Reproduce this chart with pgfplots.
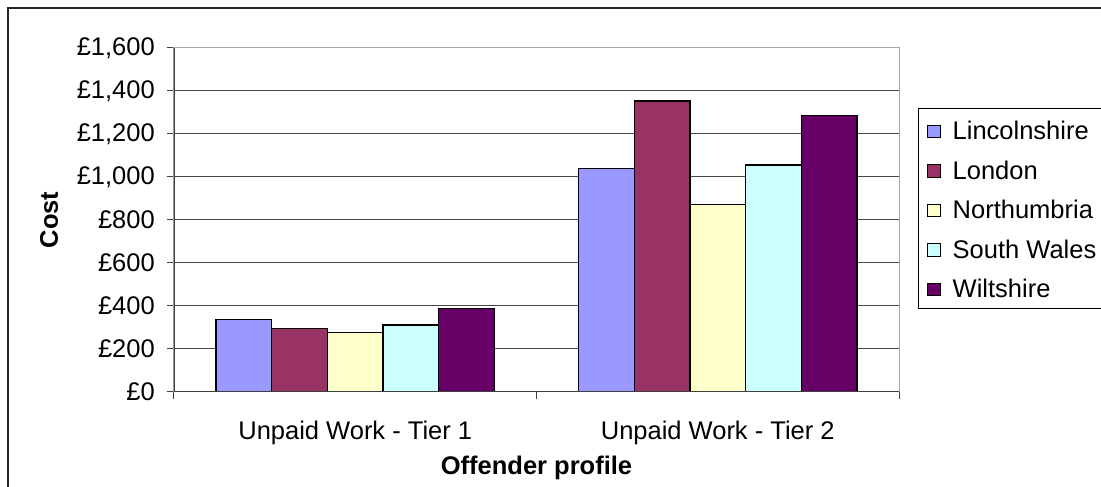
\documentclass[border=0pt]{standalone}
\usepackage{pgfplots}
\pgfplotsset{compat=1.18}
\usepackage{fontspec}
\setmainfont{Liberation Sans}

\definecolor{cLinc}{HTML}{9999FF}
\definecolor{cLond}{HTML}{993366}
\definecolor{cNorth}{HTML}{FFFFCC}
\definecolor{cSW}{HTML}{CCFFFF}
\definecolor{cWilt}{HTML}{660066}

\newcommand{\chartfont}{\fontsize{25.5}{30}\selectfont}

\pgfplotsset{
  swatch/.style={legend image code/.code={%
    \draw[##1,line width=1pt] (0pt,-8pt) rectangle (12.5pt,4.5pt);}},
}

\begin{document}
\begin{tikzpicture}
\path[use as bounding box] (0pt,0pt) rectangle (1101pt,487pt);
% outer chart frame
\draw[black!85,line width=1.3pt] (8pt,-2pt) -- (8pt,479pt) -- (1105pt,479pt);

\begin{axis}[
  at={(174pt,95.3pt)}, anchor=south west,
  scale only axis, width=725pt, height=343.7pt,
  xmin=-0.5, xmax=1.5, ymin=0, ymax=1600,
  ytick={0,200,...,1600},
  scaled y ticks=false,
  yticklabel={£\pgfmathprintnumber[assume math mode=true]{\tick}},
  xtick={-0.5,0.5,1.5}, xticklabels={},
  extra x ticks={0,1},
  extra x tick labels={Unpaid Work - Tier 1, Unpaid Work - Tier 2},
  extra x tick style={major tick length=0pt, grid=none},
  xtick pos=bottom, ytick pos=left,
  tick align=outside, major tick length=7pt,
  tick style={black!75, line width=1pt},
  ymajorgrids, grid style={black!72, line width=1pt},
  axis line style={gray!70, line width=1pt},
  ticklabel style={font=\chartfont},
  yticklabel style={inner sep=0pt, xshift=-12pt},
  xticklabel style={inner sep=0pt, anchor=north, yshift=-29pt},
  xlabel={\bfseries Offender profile},
  ylabel={\bfseries Cost},
  label style={font=\chartfont},
  xlabel style={at={(axis description cs:0.5,-0.222)}, anchor=center},
  ylabel style={at={(axis description cs:-0.1724,0.5)}, anchor=center, rotate=0},
  ybar, bar width=55.7pt,
  legend cell align=left,
  legend style={at={(axis description cs:1.0266,0.8246)}, anchor=north west,
    draw=black, line width=1pt, fill=white, font=\chartfont,
    inner xsep=8.4pt, inner ysep=4pt, row sep=5.75pt,
    nodes={inner sep=0pt, text height=27pt, text depth=6.8pt},
    /tikz/every odd column/.append style={column sep=12pt}},
]
\addplot[fill=cLinc,  draw=black, line width=1.3pt, bar shift=-111.4pt, swatch] coordinates {(0,337) (1,1040)};
\addplot[fill=cLond,  draw=black, line width=1.3pt, bar shift=-55.7pt,  swatch] coordinates {(0,295) (1,1353)};
\addplot[fill=cNorth, draw=black, line width=1.3pt, bar shift=0pt,      swatch] coordinates {(0,276) (1,870)};
\addplot[fill=cSW,    draw=black, line width=1.3pt, bar shift=55.7pt,   swatch] coordinates {(0,310) (1,1055)};
\addplot[fill=cWilt,  draw=black, line width=1.3pt, bar shift=111.4pt,  swatch] coordinates {(0,388) (1,1285)};
\legend{Lincolnshire, London, Northumbria, South Wales, Wiltshire}
% left and bottom axis lines in a darker tone
\draw[black!75, line width=1.2pt] (rel axis cs:0,1) -- (rel axis cs:0,0) -- (rel axis cs:1,0);
\end{axis}
\end{tikzpicture}
\end{document}
